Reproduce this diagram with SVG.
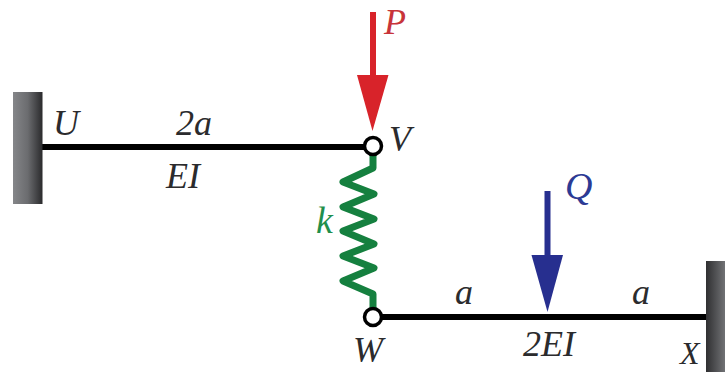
<svg xmlns="http://www.w3.org/2000/svg" width="725" height="372" viewBox="0 0 725 372">
<style>
text{font-family:"Liberation Serif","Times New Roman",serif;font-style:italic;font-size:36px;fill:#2b2b2d}
.beam{stroke:#000;stroke-width:6;fill:none}
.pin{fill:#fff;stroke:#000;stroke-width:3.500}
</style>
<defs>
<linearGradient id="wall" x1="0" x2="1" y1="0" y2="0"><stop offset="0" stop-color="#858689"/><stop offset="0.5" stop-color="#6b6c6f"/><stop offset="1" stop-color="#2a2a2c"/></linearGradient>
<linearGradient id="wall2" x1="0" x2="1" y1="0" y2="0"><stop offset="0" stop-color="#2f2f31"/><stop offset="1" stop-color="#717275"/></linearGradient>
</defs>
<rect width="725" height="372" fill="#fff"/>
<g id="connectors">
<path class="beam" d="M42 147H366"/>
<path class="beam" d="M380 317H707"/>
<path d="M373 154V168L343 182L374 194L343 207L374 219L343 231L374 244L343 256L374 268L343 281L373 294V309" fill="none" stroke="#15803f" stroke-width="7" stroke-linejoin="round"/>
<g id="load-p"><path d="M373 12V76" stroke="#d8232a" stroke-width="6" fill="none"/><path d="M357 75H388.500L372.500 131Z" fill="#d8232a"/></g>
<g id="load-q"><path d="M547.500 191V256" stroke="#272f8f" stroke-width="6" fill="none"/><path d="M531.500 255H563L547.500 312Z" fill="#272f8f"/></g>
</g>
<g id="node-u"><rect x="13" y="92" width="29.500" height="112" fill="url(#wall)"/><text x="53" y="135">U</text></g>
<g id="node-v"><circle class="pin" cx="373" cy="146" r="8.500"/><text x="389" y="151">V</text></g>
<g id="node-w"><circle class="pin" cx="373" cy="317" r="8.500"/><text x="353" y="362">W</text></g>
<g id="node-x"><rect x="706" y="261" width="19" height="111" fill="url(#wall2)"/><text x="680" y="364" style="font-size:32px">X</text></g>
<g id="labels">
<text x="384" y="34" style="fill:#c8343a">P</text>
<text x="565" y="199" style="fill:#2c3a94;font-size:38px">Q</text>
<text x="316" y="233" style="fill:#1f8f4c;font-size:38px">k</text>
<text x="176" y="135">2a</text>
<text x="166" y="188">EI</text>
<text x="455" y="304">a</text>
<text x="632" y="304">a</text>
<text x="523" y="356">2EI</text>
</g>
</svg>
